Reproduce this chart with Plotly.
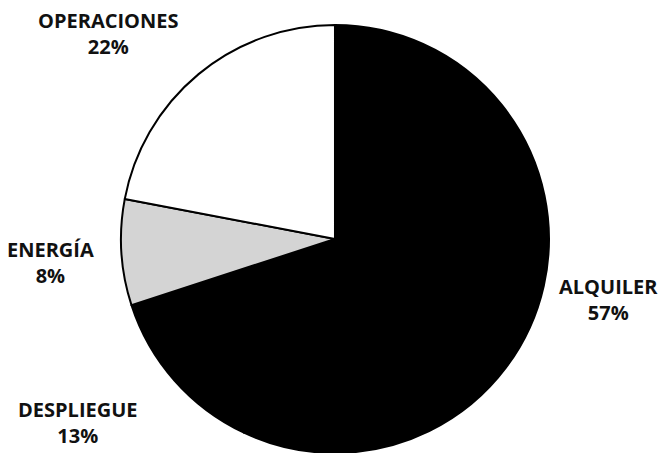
import plotly.graph_objects as go

categories = ["ALQUILER", "DESPLIEGUE", "ENERGÍA", "OPERACIONES"]
values = [57, 13, 8, 22]
colors = ["#000000", "#000000", "#d4d4d4", "#ffffff"]

# label anchor positions in paper coords (layout only)
label_pos = {
    "ALQUILER": (608 / 663, 1 - 299 / 453),
    "DESPLIEGUE": (78 / 663, 1 - 422 / 453),
    "ENERGÍA": (50 / 663, 1 - 262 / 453),
    "OPERACIONES": (108 / 663, 1 - 34 / 453),
}

fig = go.Figure()
fig.add_trace(go.Pie(
    labels=categories,
    values=values,
    sort=False,
    direction="clockwise",
    rotation=0,
    marker=dict(colors=colors, line=dict(color="#000000", width=2)),
    textinfo="none",
    hoverinfo="label+percent",
    domain=dict(x=[0.1825, 0.828], y=[0.0, 0.9448]),
    showlegend=False,
))

total = sum(values)
for cat, v in zip(categories, values):
    x, y = label_pos[cat]
    fig.add_annotation(
        x=x, y=y, xref="paper", yref="paper",
        text=f"<b>{cat}</b><br><b>{round(100 * v / total)}%</b>",
        showarrow=False,
        font=dict(family="Open Sans", size=20, color="#111111"),
        align="center",
        xanchor="center", yanchor="middle",
    )

fig.update_layout(
    width=663, height=453,
    margin=dict(l=0, r=0, t=0, b=0),
    paper_bgcolor="#ffffff",
    plot_bgcolor="#ffffff",
)

fig.write_html("out.html")
